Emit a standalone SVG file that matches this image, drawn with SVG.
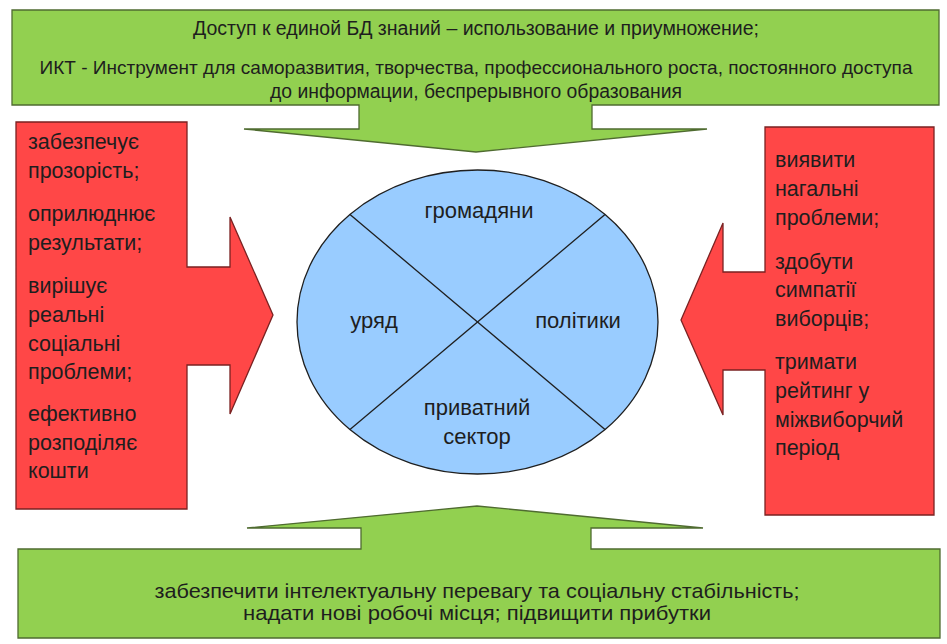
<svg xmlns="http://www.w3.org/2000/svg" width="947" height="644" viewBox="0 0 947 644">
<style>
.green{fill:#92D050;stroke:#4F6B30;stroke-width:1.3}
.red{fill:#FF4747;stroke:#7A2222;stroke-width:1.3}
.ell{fill:#99CCFF;stroke:#1F1F1F;stroke-width:1.3}
.div{stroke:#1F1F1F;stroke-width:1.3;fill:none}
text{font-family:"Liberation Sans","Noto Sans",Arial,sans-serif;fill:#1E1E1E}
.t{font-size:19.5px;text-anchor:middle}
.l{font-size:21.5px}
.c{font-size:22px;text-anchor:middle}
.b{font-size:21px;text-anchor:middle}
</style>
<rect width="947" height="644" fill="#FFFFFF"/>
<g id="top">
<path class="green" d="M12,10 H939 V105 H592 V129 H707 L476,152 L244,129 H359 V105 H12 Z"/>
<text class="t" x="476" y="35" textLength="566" lengthAdjust="spacingAndGlyphs">Доступ к единой БД знаний – использование и приумножение;</text>
<text class="t" x="476" y="74" style="font-size:19px" textLength="873" lengthAdjust="spacingAndGlyphs">ИКТ - Инструмент для саморазвития, творчества, профессионального роста, постоянного доступа</text>
<text class="t" x="476" y="98" textLength="412" lengthAdjust="spacingAndGlyphs">до информации, беспрерывного образования</text>
</g>
<g id="left">
<path class="red" d="M16,122 H187 V267 H230 V217 L273,315 L230,414 V365 H187 V509 H16 Z"/>
<text class="l" x="28" y="149">забезпечує</text>
<text class="l" x="28" y="178">прозорість;</text>
<text class="l" x="28" y="221">оприлюднює</text>
<text class="l" x="28" y="250">результати;</text>
<text class="l" x="28" y="293">вирішує</text>
<text class="l" x="28" y="322">реальні</text>
<text class="l" x="28" y="351">соціальні</text>
<text class="l" x="28" y="379">проблеми;</text>
<text class="l" x="28" y="421">ефективно</text>
<text class="l" x="28" y="450">розподіляє</text>
<text class="l" x="28" y="478">кошти</text>
</g>
<g id="right">
<path class="red" d="M765,127 H934 V515 H765 V370 H723 V415 L681,320 L723,223 V272 H765 Z"/>
<text class="l" x="775" y="167">виявити</text>
<text class="l" x="775" y="196">нагальні</text>
<text class="l" x="775" y="225">проблеми;</text>
<text class="l" x="775" y="269">здобути</text>
<text class="l" x="775" y="297">симпатії</text>
<text class="l" x="775" y="326">виборців;</text>
<text class="l" x="775" y="369">тримати</text>
<text class="l" x="775" y="398">рейтинг у</text>
<text class="l" x="775" y="427">міжвиборчий</text>
<text class="l" x="775" y="455">період</text>
</g>
<g id="bottom">
<path class="green" d="M18,549 H361 V528 H247 L477,506 L703,528 H591 V549 H940 V638 H18 Z"/>
<text class="b" x="477" y="598" textLength="645" lengthAdjust="spacingAndGlyphs">забезпечити інтелектуальну перевагу та соціальну стабільність;</text>
<text class="b" x="477" y="620" textLength="468" lengthAdjust="spacingAndGlyphs">надати нові робочі місця; підвищити прибутки</text>
</g>
<g id="center">
<ellipse class="ell" cx="477.5" cy="322" rx="180.5" ry="152"/>
<g id="connectors">
<line class="div" x1="350" y1="214.5" x2="605" y2="429.5"/>
<line class="div" x1="605" y1="214.5" x2="350" y2="429.5"/>
</g>
<text class="c" x="479" y="218">громадяни</text>
<text class="c" x="374" y="328">уряд</text>
<text class="c" x="578" y="328">політики</text>
<text class="c" x="477" y="415">приватний</text>
<text class="c" x="477" y="444">сектор</text>
</g>
</svg>
